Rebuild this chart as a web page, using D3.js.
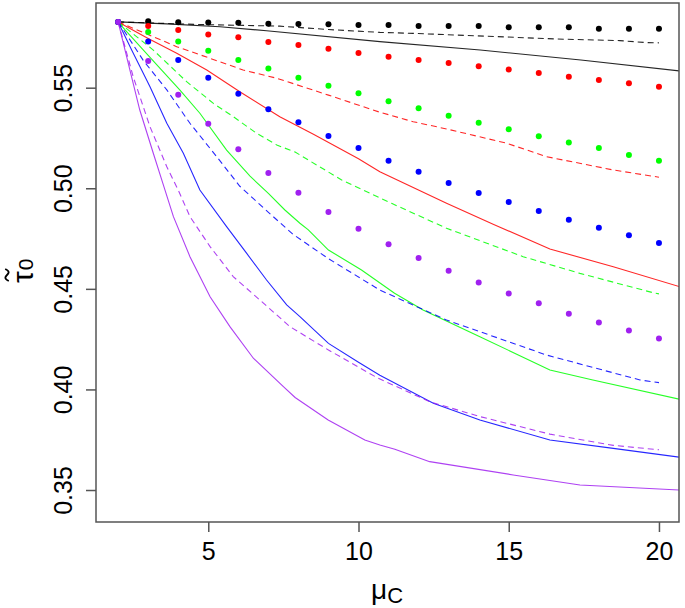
<!DOCTYPE html>
<html>
<head>
<meta charset="utf-8">
<script src="https://cdn.jsdelivr.net/npm/d3@7"></script>
<style>
  html, body { margin: 0; padding: 0; background: #fff; }
  svg { display: block; }
  text { font-family: "Liberation Sans", Arial, sans-serif; fill: #000; }
</style>
</head>
<body>
<svg id="chart" width="685" height="608"></svg>
<script>
// ---------- data ----------
const xTicks = [5, 10, 15, 20];
const yTicks = [0.35, 0.40, 0.45, 0.50, 0.55];
const yTickLabels = ["0.35", "0.40", "0.45", "0.50", "0.55"];
const dotX = [2,3,4,5,6,7,8,9,10,11,12,13,14,15,16,17,18,19,20];

const blackDots  = [0.5827,0.5830,0.5825,0.5824,0.5823,0.5818,0.5817,0.5815,0.5812,0.5812,0.5807,0.5807,0.5807,0.5800,0.5800,0.5800,0.5793,0.5793,0.5793];
const redDots    = [0.5827,0.5807,0.5787,0.5765,0.5751,0.5727,0.5712,0.5694,0.5673,0.5654,0.5638,0.5623,0.5606,0.5590,0.5573,0.5555,0.5538,0.5522,0.5505];
const greenDots  = [0.5827,0.5777,0.5729,0.5684,0.5638,0.5596,0.5550,0.5510,0.5472,0.5432,0.5398,0.5361,0.5326,0.5293,0.5258,0.5227,0.5200,0.5165,0.5137];
const blueDots   = [0.5827,0.5729,0.5638,0.5550,0.5470,0.5393,0.5328,0.5260,0.5200,0.5137,0.5082,0.5026,0.4977,0.4932,0.4887,0.4844,0.4804,0.4766,0.4728];
const purpleDots = [0.5827,0.5633,0.5465,0.5321,0.5194,0.5076,0.4978,0.4882,0.4799,0.4722,0.4653,0.4590,0.4532,0.4477,0.4428,0.4376,0.4333,0.4293,0.4253];

// solid curves [x, value]
const blackSolid = [[2,0.5827],[3.62,0.5817],[5.39,0.5803],[6.94,0.5783],[10.71,0.5729],[14.05,0.5687],[17.4,0.5638],[20.7,0.5583]];
const redSolid = [[2,0.5827],[3,0.5745],[3.95,0.5671],[4.95,0.5588],[6.05,0.5480],[7.38,0.5356],[8.5,0.5268],[10,0.5147],[10.71,0.5082],[12.93,0.4925],[14.5,0.4820],[16.37,0.4698],[18.48,0.4610],[20.7,0.4510]];
const greenSolid = [[2,0.5827],[2.23,0.5787],[3,0.5661],[4.05,0.5489],[4.72,0.5373],[5.61,0.5190],[6.39,0.5060],[7.0,0.4975],[7.55,0.4892],[8.05,0.4826],[8.33,0.4793],[9.0,0.4693],[10.1,0.4594],[11.2,0.4478],[12.15,0.4395],[14.04,0.4262],[16.37,0.4097],[17.8,0.4047],[20.7,0.3951]];
const blueSolid = [[2,0.5827],[2.45,0.5687],[3.06,0.5505],[3.62,0.5323],[4.17,0.5174],[4.72,0.4991],[5.61,0.4809],[6.28,0.4676],[6.94,0.4544],[7.61,0.4420],[8.05,0.4362],[9.0,0.4229],[10.0,0.4135],[10.71,0.4071],[12.49,0.3931],[14.04,0.3848],[16.37,0.3749],[18.48,0.3707],[20.7,0.3663]];
const purpleSolid = [[2,0.5827],[2.39,0.5588],[2.72,0.5389],[3.17,0.5174],[3.56,0.4991],[3.84,0.4859],[4.39,0.4660],[5.06,0.4461],[5.72,0.4312],[6.5,0.4155],[7.5,0.4014],[7.89,0.3960],[8.99,0.3848],[10.21,0.3749],[10.71,0.3724],[11.21,0.3703],[12.37,0.3641],[15.15,0.3575],[17.37,0.3525],[20.7,0.3500]];

// dashed curves [x, value]
const blackDashed = [[2,0.5827],[4.72,0.5814],[7.38,0.5806],[9.0,0.5789],[10.71,0.5775],[11.82,0.5770],[13.9,0.5758],[16.6,0.5742],[18.7,0.5734],[19.59,0.5724],[20,0.5723]];
const redDashed = [[2,0.5827],[3.95,0.5704],[5.06,0.5646],[6.16,0.5588],[7.28,0.5547],[9.0,0.5463],[10.71,0.5378],[11.82,0.5331],[12.93,0.5295],[14.93,0.5224],[16.26,0.5157],[18.48,0.5091],[20,0.5055]];
const greenDashed = [[2,0.5827],[3.17,0.5687],[4.28,0.5530],[5.17,0.5422],[5.83,0.5356],[6.61,0.5273],[7.28,0.5215],[7.89,0.5180],[9.44,0.5041],[11.1,0.4925],[12.93,0.4801],[15.48,0.4660],[17.37,0.4577],[19.8,0.4481],[20,0.4475]];
const blueDashed = [[2,0.5827],[2.18,0.5787],[2.83,0.5637],[3.62,0.5489],[4.39,0.5323],[5.28,0.5157],[6.05,0.5010],[7.16,0.4859],[7.83,0.4770],[9.0,0.4650],[10.71,0.4494],[12.93,0.4345],[16.26,0.4171],[19.37,0.4047],[20,0.4034]];
const purpleDashed = [[2,0.5827],[2.5,0.5555],[3.06,0.5306],[3.62,0.5107],[4.0,0.4991],[4.39,0.4859],[5.06,0.4710],[5.83,0.4561],[6.72,0.4444],[7.72,0.4312],[9.0,0.4196],[10.66,0.4055],[12.37,0.3939],[14.04,0.3865],[16.37,0.3778],[18.48,0.3722],[20,0.3700]];

const colors = { black: "#000000", red: "#FF0000", green: "#00FF00", blue: "#0000FF", purple: "#A020F0" };

// ---------- layout ----------
const plotLeft = 96, plotRight = 679, plotTop = 3, plotBottom = 522;
const svg = d3.select("#chart");

const x = d3.scaleLinear().domain([1.263, 20.667]).range([plotLeft, plotRight]);
const y = d3.scaleLinear().domain([0.3341, 0.5921]).range([plotBottom, plotTop]);

svg.append("defs").append("clipPath").attr("id", "clip")
  .append("rect").attr("x", plotLeft).attr("y", plotTop)
  .attr("width", plotRight - plotLeft).attr("height", plotBottom - plotTop);

const g = svg.append("g").attr("clip-path", "url(#clip)");
const line = d3.line().x(d => x(d[0])).y(d => y(d[1]));

const solids = [[blackSolid, colors.black],[redSolid, colors.red],[greenSolid, colors.green],[blueSolid, colors.blue],[purpleSolid, colors.purple]];
const dashes = [[blackDashed, colors.black],[redDashed, colors.red],[greenDashed, colors.green],[blueDashed, colors.blue],[purpleDashed, colors.purple]];

solids.forEach(([d, c]) => {
  g.append("path").datum(d).attr("d", line)
    .attr("fill", "none").attr("stroke", c).attr("stroke-width", 1.1).attr("stroke-opacity", 0.85);
});
dashes.forEach(([d, c]) => {
  g.append("path").datum(d).attr("d", line)
    .attr("fill", "none").attr("stroke", c).attr("stroke-width", 1.1).attr("stroke-opacity", 0.85)
    .attr("stroke-dasharray", "6,4");
});

const dotSets = [[blackDots, colors.black],[redDots, colors.red],[greenDots, colors.green],[blueDots, colors.blue],[purpleDots, colors.purple]];
dotSets.forEach(([vals, c]) => {
  g.selectAll(null).data(vals.map((v, i) => [dotX[i], v])).enter()
    .append("circle")
    .attr("cx", d => x(d[0])).attr("cy", d => y(d[1]))
    .attr("r", 3).attr("fill", c);
});

// ---------- axes ----------
const axisColor = "#555";
svg.append("rect").attr("x", plotLeft).attr("y", plotTop)
  .attr("width", plotRight - plotLeft).attr("height", plotBottom - plotTop)
  .attr("fill", "none").attr("stroke", axisColor).attr("stroke-width", 1.5);

const xAxis = d3.axisBottom(x).tickValues(xTicks).tickSize(10).tickPadding(10).tickFormat(d3.format("d"));
const gx = svg.append("g").attr("transform", `translate(0,${plotBottom})`).call(xAxis);
gx.select(".domain").remove();
gx.selectAll(".tick line").attr("stroke", axisColor).attr("stroke-width", 1.5);
gx.selectAll(".tick text").attr("font-size", 25).attr("font-family", "Liberation Sans, Arial, sans-serif").attr("fill", "#000").attr("dy", "0.71em");

const yAxis = d3.axisLeft(y).tickValues(yTicks).tickSize(10).tickFormat((d, i) => yTickLabels[i]);
const gy = svg.append("g").attr("transform", `translate(${plotLeft},0)`).call(yAxis);
gy.select(".domain").remove();
gy.selectAll(".tick line").attr("stroke", axisColor).attr("stroke-width", 1.5);
gy.selectAll(".tick text")
  .attr("font-size", 25).attr("font-family", "Liberation Sans, Arial, sans-serif").attr("fill", "#000")
  .attr("x", null).attr("dy", null)
  .attr("text-anchor", "middle")
  .attr("transform", "translate(-24,0) rotate(-90)");

// ---------- axis titles ----------
const xl = svg.append("text").attr("x", 371).attr("y", 599).attr("font-size", 28);
xl.append("tspan").text("μ");
xl.append("tspan").attr("font-size", 22).attr("dy", 4).text("C");

// y title: tilde-tau with subscript 0 (the tilde accent is drawn as a small stroke above tau)
const yl = svg.append("text").attr("transform", "translate(33,283) rotate(-90)").attr("font-size", 30);
yl.append("tspan").text("τ");
yl.append("tspan").attr("font-size", 21).attr("dx", 1).text("0");
svg.append("path")
  .attr("transform", "translate(7,275) rotate(-90)")
  .attr("d", "M-6,1.8 C-3.5,-3.5 -1.5,-1.5 0,0 C1.5,1.5 3.5,3.5 6,-1.8")
  .attr("fill", "none").attr("stroke", "#000").attr("stroke-width", 1.8);
</script>
</body>
</html>
